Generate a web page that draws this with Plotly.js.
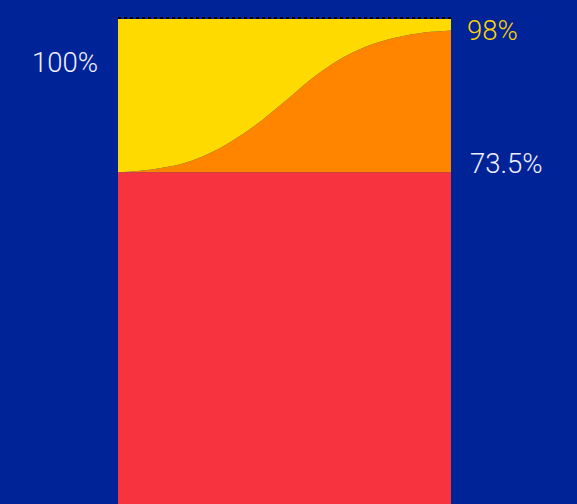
<!DOCTYPE html>
<html>
<head>
<meta charset="utf-8">
<script src="https://cdn.plot.ly/plotly-3.0.1.min.js"></script>
<style>html,body{margin:0;padding:0;background:#002398;}#chart{width:577px;height:504px;}</style>
</head>
<body>
<div id="chart"></div>
<script>
// Data
const steps = [0, 1, 2, 3, 4, 5, 6, 7, 8, 9, 10];
const baseShare = 73.5;           // red block
const curveShare = [73.5, 74.0, 75.1, 77.5, 81.1, 85.7, 90.5, 94.1, 96.3, 97.5, 98.0];
const totalShare = 100;
const labels = {total: '100%', curveEnd: '98%', base: '73.5%'};

const baseLine = steps.map(() => baseShare);
const topLine = steps.map(() => totalShare);

const traces = [
  {x: steps, y: baseLine, type: 'scatter', mode: 'lines', fill: 'tozeroy',
   fillcolor: 'rgb(248,51,64)', line: {width: 0, color: 'rgb(248,51,64)'}, hoverinfo: 'skip'},
  {x: steps, y: curveShare, type: 'scatter', mode: 'lines', fill: 'tonexty',
   fillcolor: 'rgb(255,132,0)', line: {width: 0, shape: 'spline', smoothing: 1, color: 'rgb(255,132,0)'}, hoverinfo: 'skip'},
  {x: steps, y: topLine, type: 'scatter', mode: 'lines', fill: 'tonexty',
   fillcolor: 'rgb(255,218,0)', line: {width: 0, color: 'rgb(255,218,0)'}, hoverinfo: 'skip'}
];

const font = {family: 'Roboto, "Liberation Sans", sans-serif', size: 27.5, weight: 300};

const layout = {
  width: 577, height: 504,
  margin: {l: 118, r: 126, t: 19, b: 0, pad: 0},
  paper_bgcolor: 'rgb(0,35,152)',
  plot_bgcolor: 'rgb(0,35,152)',
  showlegend: false,
  xaxis: {range: [0, 10], visible: false, fixedrange: true},
  yaxis: {range: [16.16, 100], visible: false, fixedrange: true},
  shapes: [
    {type: 'line', xref: 'paper', yref: 'paper', x0: 0, x1: 1, y0: 1.002, y1: 1.002,
     line: {color: '#000000', width: 2, dash: 'dot'}}
  ],
  annotations: [
    {xref: 'paper', yref: 'paper', x: -0.055, y: 0.910, xanchor: 'right', yanchor: 'middle',
     text: labels.total, showarrow: false, font: Object.assign({}, font, {color: 'rgb(240,240,255)'})},
    {xref: 'paper', yref: 'paper', x: 1.043, y: 0.977, xanchor: 'left', yanchor: 'middle',
     text: labels.curveEnd, showarrow: false, font: Object.assign({}, font, {color: 'rgb(255,210,0)'})},
    {xref: 'paper', yref: 'paper', x: 1.051, y: 0.7025, xanchor: 'left', yanchor: 'middle',
     text: labels.base, showarrow: false, font: Object.assign({}, font, {color: 'rgb(240,240,255)'})}
  ]
};

Plotly.newPlot('chart', traces, layout, {displayModeBar: false, staticPlot: true});
</script>
</body>
</html>
